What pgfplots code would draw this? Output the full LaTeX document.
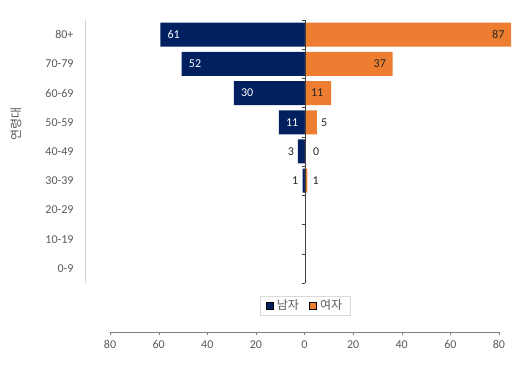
\documentclass[border=0pt]{standalone}
\usepackage{pgfplots}
\pgfplotsset{compat=1.18}
\usepackage{pgfplotstable}
\usepackage{fontspec}
\setmainfont{Carlito}
\newfontfamily\kr{Noto Sans CJK KR}
\definecolor{navy}{HTML}{002060}
\definecolor{orng}{HTML}{ED7D31}
\definecolor{txt}{HTML}{595959}
\definecolor{lbl}{HTML}{262626}
\definecolor{axc}{HTML}{404040}
\definecolor{axc2}{HTML}{7F7F7F}

% mdx/fdx: shift of the label's west edge from the bar end (pt); mw: 100 = white text, 0 = dark text
\pgfplotstableread{
y m mn mdx mw f fdx
8 61 -61 7 100 87 -19.2
7 52 -52 7 100 37 -19.2
6 30 -30 7 100 11 -20.2
5 11 -11 7 100 5 4
4 3 -3 -10.1 0 0 8
3 1 -1 -10.6 0 1 5
}\data

\begin{document}
\begin{tikzpicture}
\useasboundingbox (0,0) rectangle (522pt,371pt);
\begin{axis}[at={(85pt,88pt)}, anchor=south west, scale only axis,
  width=430pt, height=263pt,
  xmin=-92.8, xmax=88.6, ymin=-0.5, ymax=8.5,
  axis x line=none, axis y line*=left,
  axis line style={-, draw=gray!35},
  ytick={0,...,8},
  yticklabels={0-9,10-19,20-29,30-39,40-49,50-59,60-69,70-79,80+},
  major tick length=0pt,
  yticklabel style={text=txt, font=\fontsize{12}{14}\selectfont, xshift=-8pt},
  /pgf/number format/assume math mode=true,
  clip=false,
  legend columns=2,
  legend style={at={(0.5116,-0.0856)}, anchor=center, draw=gray!30,
    text=txt, font=\kr\fontsize{12}{14}\selectfont,
    inner xsep=6pt, inner ysep=2pt,
    /tikz/every even column/.append style={column sep=8pt}},
  legend image code/.code={\draw[#1] (0pt,-3.5pt) rectangle (7pt,3.5pt);
    \path (0pt,0pt) -- (9pt,0pt);},
]
\addplot[xbar, bar width=24pt, bar shift=0pt, fill=navy, draw=none,
  point meta=explicit,
  visualization depends on={\thisrow{mdx}\as\mdx},
  visualization depends on={\thisrow{mw}\as\mw},
  nodes near coords,
  every node near coord/.append style={anchor=west, xshift=\mdx pt, text=white!\mw!lbl,
    inner sep=0pt, font=\fontsize{12}{14}\selectfont}
] table[x=mn, y=y, meta=m]{\data};
\addlegendentry{남자}
\addplot[xbar, bar width=24pt, bar shift=0pt, fill=orng, draw=none,
  point meta=explicit,
  visualization depends on={\thisrow{fdx}\as\fdx},
  nodes near coords,
  every node near coord/.append style={anchor=west, xshift=\fdx pt, text=lbl,
    inner sep=0pt, font=\fontsize{12}{14}\selectfont}
] table[x=f, y=y, meta=f]{\data};
\addlegendentry{여자}
\draw[axc] (axis cs:0,-0.5) -- (axis cs:0,8.5);
\draw[axc] (axis cs:0,-0.5) -- ++(-3pt,0pt);
\draw[axc] (axis cs:0,0.5) -- ++(-3pt,0pt);
\draw[axc] (axis cs:0,1.5) -- ++(-3pt,0pt);
\draw[axc] (axis cs:0,2.5) -- ++(-3pt,0pt);
\draw[axc] (axis cs:0,3.5) -- ++(-3pt,0pt);
\draw[axc] (axis cs:0,4.5) -- ++(-3pt,0pt);
\draw[axc] (axis cs:0,5.5) -- ++(-3pt,0pt);
\draw[axc] (axis cs:0,6.5) -- ++(-3pt,0pt);
\draw[axc] (axis cs:0,7.5) -- ++(-3pt,0pt);
\draw[axc] (axis cs:0,8.5) -- ++(-3pt,0pt);
\end{axis}
\begin{axis}[at={(110pt,39pt)}, anchor=south west, scale only axis,
  width=389pt, height=10pt, xmin=-80, xmax=80, ymin=0, ymax=1,
  hide y axis, axis x line*=bottom, axis line style={-, draw=axc2},
  xtick={-80,-60,...,80}, xticklabels={80,60,40,20,0,20,40,60,80},
  tick align=outside, major tick length=3pt, tick style={draw=axc2},
  xticklabel style={text=txt, font=\fontsize{12}{14}\selectfont, yshift=-2pt},
]
\end{axis}
\node[rotate=90, text=txt, font=\kr\fontsize{12}{14}\selectfont] at (16pt,247pt) {연령대};
\end{tikzpicture}
\end{document}
